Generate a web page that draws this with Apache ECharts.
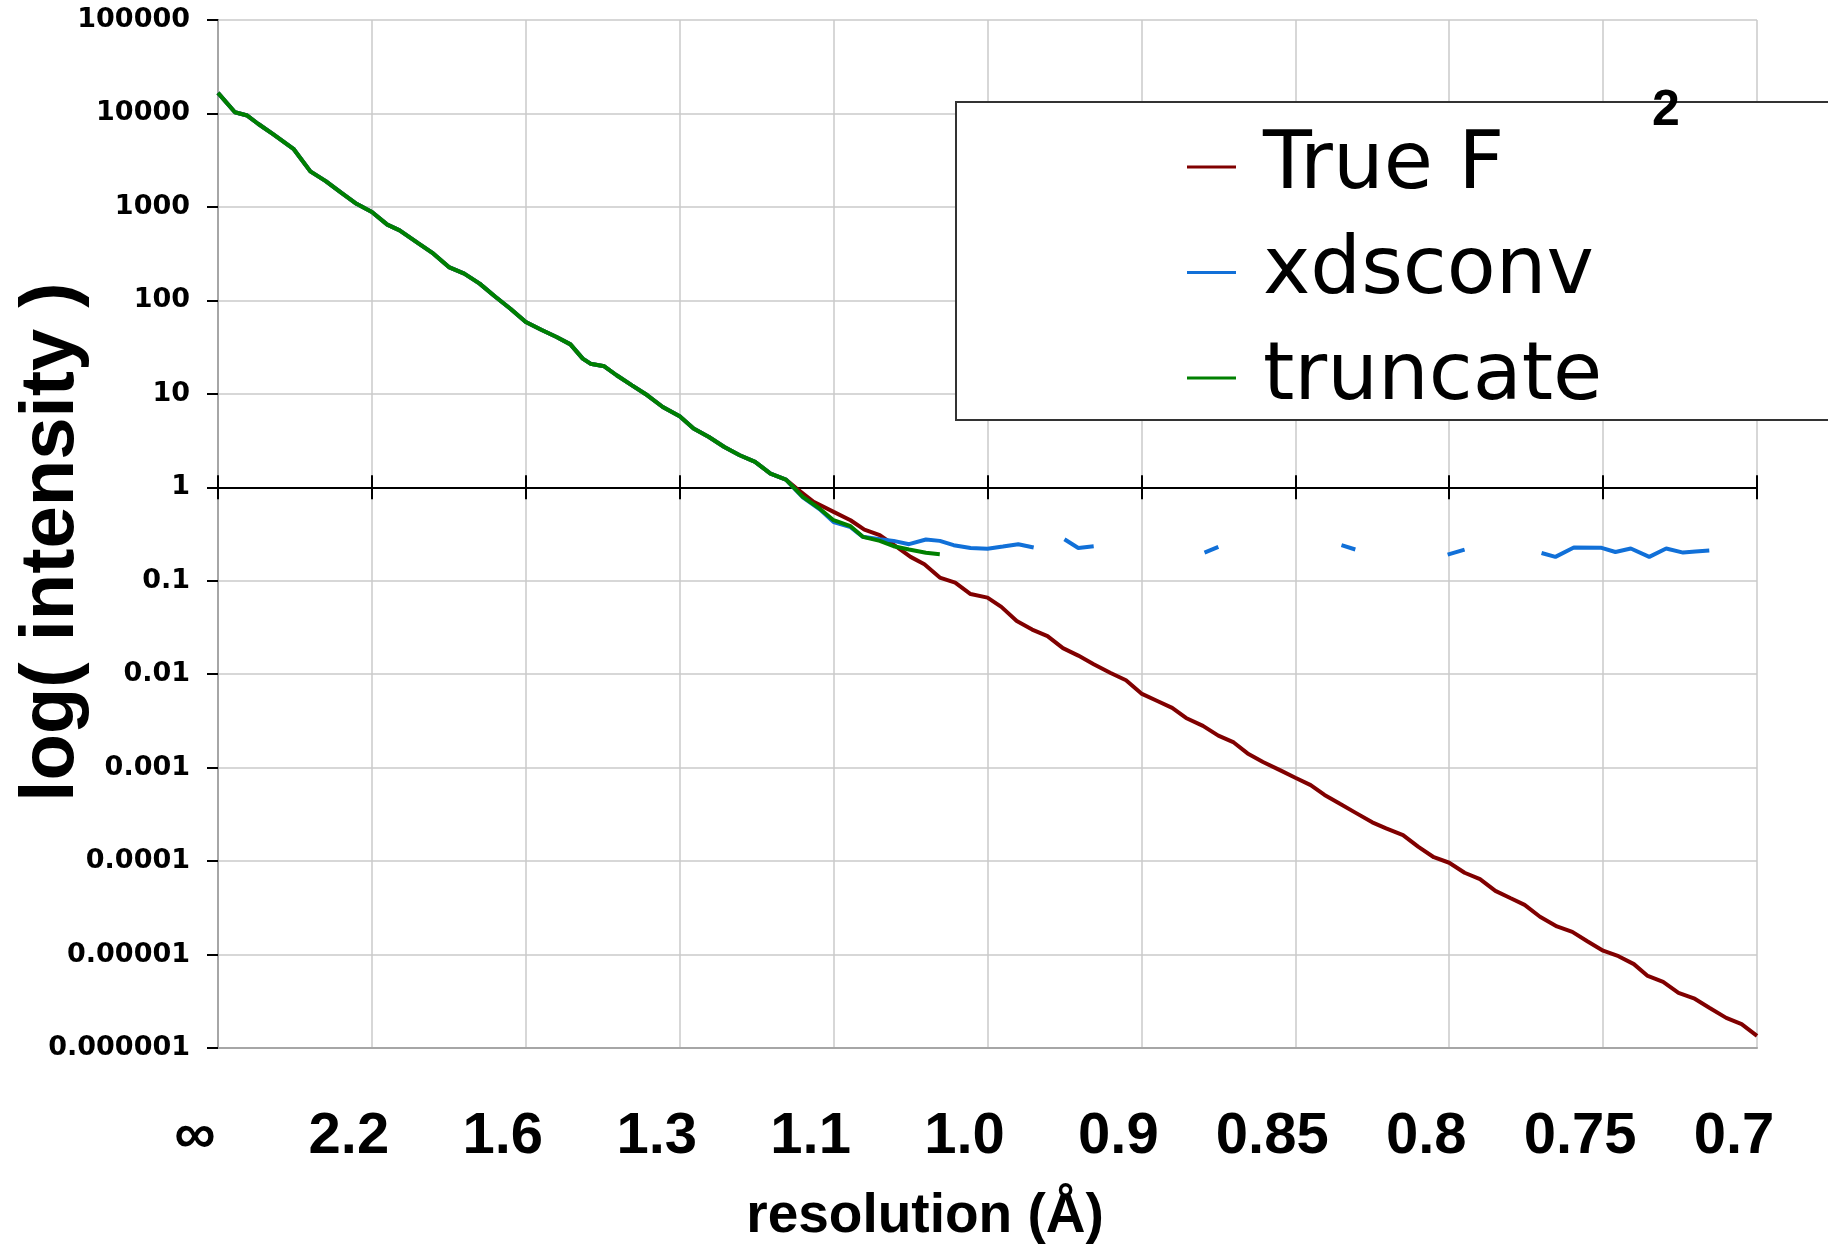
<!DOCTYPE html>
<html>
<head>
<meta charset="utf-8">
<script src="https://cdn.jsdelivr.net/npm/echarts@6/dist/echarts.min.js"></script>
<style>
  html, body { margin: 0; padding: 0; background: #fff; }
  #chart { width: 1828px; height: 1246px; }
</style>
</head>
<body>
<div id="chart"></div>
<script>
// x is in equal steps of 1/d^2 (tick index 0..10), y is intensity
const xTickLabels = ['\u221E', '2.2', '1.6', '1.3', '1.1', '1.0', '0.9', '0.85', '0.8', '0.75', '0.7'];
const yTickLabels = ['0.000001', '0.00001', '0.0001', '0.001', '0.01', '0.1', '1', '10', '100', '1000', '10000', '100000'];
const seriesNames = ['True F', 'xdsconv', 'truncate'];

// low resolution part, identical for all three curves
const commonHead = [
  [0.00, 16600], [0.11, 10300], [0.19, 9500], [0.26, 7760], [0.36, 5960], [0.49, 4190],
  [0.60, 2400], [0.70, 1890], [0.80, 1420], [0.90, 1080], [1.00, 883], [1.10, 646],
  [1.18, 561], [1.30, 410], [1.40, 316], [1.50, 227], [1.60, 193], [1.70, 151],
  [1.80, 110], [1.90, 81.3], [2.00, 58.6], [2.10, 48.5], [2.20, 40.5], [2.29, 33.8],
  [2.37, 23.8], [2.42, 21.0], [2.51, 19.7], [2.59, 15.8], [2.69, 12.3], [2.79, 9.64],
  [2.89, 7.23], [3.00, 5.74], [3.09, 4.25], [3.19, 3.45], [3.29, 2.70], [3.39, 2.20],
  [3.49, 1.87], [3.59, 1.40], [3.69, 1.21]
];

const trueFTail = [
  [3.76, 0.97], [3.87, 0.70], [4.00, 0.545], [4.11, 0.444], [4.20, 0.352], [4.30, 0.307],
  [4.41, 0.230], [4.50, 0.180], [4.59, 0.150], [4.69, 0.108], [4.79, 0.0955], [4.89, 0.072],
  [5.00, 0.066], [5.09, 0.0525], [5.19, 0.037], [5.29, 0.030], [5.39, 0.0255], [5.49, 0.019],
  [5.59, 0.0158], [5.69, 0.0128], [5.80, 0.0103], [5.90, 0.0086], [6.00, 0.0062], [6.10, 0.0052],
  [6.20, 0.00436], [6.29, 0.0034], [6.40, 0.0028], [6.50, 0.0022], [6.60, 0.00186], [6.69, 0.00142],
  [6.79, 0.00115], [6.90, 0.00094], [7.00, 0.00078], [7.10, 0.00065], [7.19, 0.00051], [7.29, 0.00041],
  [7.39, 0.00033], [7.50, 0.00026], [7.59, 0.000224], [7.70, 0.00019], [7.80, 0.000142], [7.90, 0.00011],
  [8.00, 0.000096], [8.10, 0.000075], [8.20, 0.000064], [8.30, 0.000048], [8.40, 0.00004], [8.49, 0.000034],
  [8.59, 0.0000254], [8.70, 0.00002], [8.80, 0.0000175], [8.90, 0.0000138], [9.00, 0.000011], [9.10, 0.0000096],
  [9.20, 0.0000079], [9.29, 0.0000059], [9.39, 0.0000051], [9.49, 0.0000039], [9.59, 0.0000034], [9.69, 0.0000027],
  [9.80, 0.0000021], [9.90, 0.0000018], [10.00, 0.00000135]
];

// '-' = missing value, breaks the line
const xdsconvTail = [
  [3.80, 0.78], [3.91, 0.58], [4.00, 0.425], [4.11, 0.375], [4.19, 0.295], [4.30, 0.278],
  [4.39, 0.267], [4.49, 0.246], [4.60, 0.276], [4.69, 0.267], [4.78, 0.240], [4.89, 0.224],
  [5.00, 0.220], [5.10, 0.232], [5.20, 0.246], [5.30, 0.227], [5.40, '-'],
  [5.50, 0.278], [5.59, 0.224], [5.69, 0.234], [6.00, '-'],
  [6.41, 0.200], [6.50, 0.230], [7.00, '-'],
  [7.30, 0.240], [7.39, 0.216], [7.70, '-'],
  [7.99, 0.190], [8.10, 0.215], [8.40, '-'],
  [8.60, 0.198], [8.69, 0.180], [8.81, 0.227], [8.99, 0.225], [9.08, 0.203], [9.18, 0.221],
  [9.30, 0.180], [9.41, 0.221], [9.52, 0.200], [9.60, 0.205], [9.69, 0.210]
];

const truncateTail = [
  [3.80, 0.79], [3.91, 0.59], [4.00, 0.444], [4.11, 0.383], [4.19, 0.295], [4.30, 0.267],
  [4.39, 0.234], [4.49, 0.216], [4.60, 0.199], [4.69, 0.192]
];

const chartDiv = document.getElementById('chart');
const myChart = echarts.init(chartDiv, null, { width: 1828, height: 1246 });

const gridTop = 20;
const gridBottom = 198;
const gridHeight = 1246 - gridTop - gridBottom;
// the black line sits at intensity 1, i.e. 6 of 11 decades above the bottom
const oneLineOffset = -gridHeight * 6 / 11;

const boldSans = '"Liberation Sans", Arial, sans-serif';

function xLabel(v) {
  return xTickLabels[Math.round(v)];
}
function yLabel(v) {
  return yTickLabels[Math.round(Math.log10(v)) + 6];
}

const option = {
  animation: false,
  backgroundColor: '#fff',
  grid: {
    left: 218,
    right: 71,
    top: gridTop,
    bottom: gridBottom,
    outerBoundsMode: 'none',
    containLabel: false
  },
  legend: {
    data: seriesNames,
    orient: 'vertical',
    left: 956,
    top: 102,
    padding: [25, 700, 2, 231],
    itemGap: 25.5,
    itemWidth: 49,
    itemHeight: 3,
    icon: 'rect',
    backgroundColor: '#fff',
    borderColor: '#333',
    borderWidth: 2,
    borderRadius: 0,
    textStyle: {
      fontFamily: '"DejaVu Sans", sans-serif',
      fontSize: 80,
      lineHeight: 80,
      color: '#000',
      padding: [0, 0, 0, 22]
    }
  },
  graphic: [
    {
      type: 'text',
      left: 1652,
      top: 86,
      z: 100,
      style: {
        text: '2',
        fill: '#000',
        font: 'bold 50px ' + boldSans
      }
    }
  ],
  xAxis: [
    {
      type: 'value',
      position: 'bottom',
      min: 0,
      max: 10,
      interval: 1,
      axisLine: { show: true, lineStyle: { color: '#a6a6a6', width: 2 } },
      axisTick: { show: false },
      splitLine: { show: true, lineStyle: { color: '#cacaca', width: 1.5 } },
      axisLabel: {
        formatter: xLabel,
        showMinLabel: true,
        showMaxLabel: true,
        hideOverlap: false,
        margin: 60,
        color: '#000',
        fontFamily: boldSans,
        fontWeight: 'bold',
        fontSize: 58,
        lineHeight: 58,
        padding: [0, 46, 0, 0]
      },
      name: 'resolution (\u00C5)',
      nameLocation: 'middle',
      nameGap: 140,
      nameMoveOverlap: false,
      nameTextStyle: {
        color: '#000',
        fontFamily: boldSans,
        fontWeight: 'bold',
        fontSize: 55,
        lineHeight: 58,
        padding: [0, 125, 0, 0]
      }
    },
    {
      type: 'value',
      position: 'bottom',
      offset: oneLineOffset,
      min: 0,
      max: 10,
      interval: 1,
      axisLine: { show: true, lineStyle: { color: '#000', width: 2 } },
      axisTick: { show: true, inside: true, length: 12, lineStyle: { color: '#000', width: 2 } },
      axisLabel: { show: false },
      splitLine: { show: false }
    },
    {
      type: 'value',
      position: 'bottom',
      offset: oneLineOffset,
      min: 0,
      max: 10,
      interval: 1,
      axisLine: { show: false },
      axisTick: { show: true, inside: false, length: 12, lineStyle: { color: '#000', width: 2 } },
      axisLabel: { show: false },
      splitLine: { show: false }
    }
  ],
  yAxis: [
    {
      type: 'log',
      logBase: 10,
      position: 'left',
      min: 0.000001,
      max: 100000,
      interval: 1,
      axisLine: { show: true, lineStyle: { color: '#000', width: 2 } },
      axisTick: { show: true, inside: false, length: 11, lineStyle: { color: '#000', width: 2 } },
      splitLine: { show: true, lineStyle: { color: '#cacaca', width: 1.5 } },
      axisLabel: {
        formatter: yLabel,
        showMinLabel: true,
        showMaxLabel: true,
        hideOverlap: false,
        margin: 28,
        color: '#000',
        fontFamily: '"DejaVu Sans", sans-serif',
        fontWeight: 'bold',
        fontSize: 27
      },
      name: 'log( intensity )',
      nameLocation: 'middle',
      nameGap: 128,
      nameMoveOverlap: false,
      nameTextStyle: {
        color: '#000',
        fontFamily: boldSans,
        fontWeight: 'bold',
        fontSize: 76,
        lineHeight: 76,
        padding: [0, 16, 0, 0]
      }
    },
    {
      type: 'log',
      logBase: 10,
      position: 'right',
      min: 0.000001,
      max: 100000,
      interval: 1,
      axisLine: { show: true, lineStyle: { color: '#a6a6a6', width: 2 } },
      axisTick: { show: false },
      axisLabel: { show: false },
      splitLine: { show: false }
    }
  ],
  series: [
    {
      name: 'True F',
      type: 'line',
      xAxisIndex: 0,
      yAxisIndex: 0,
      symbol: 'none',
      showSymbol: false,
      color: '#800000',
      lineStyle: { color: '#800000', width: 4 },
      data: commonHead.concat(trueFTail)
    },
    {
      name: 'xdsconv',
      type: 'line',
      xAxisIndex: 0,
      yAxisIndex: 0,
      symbol: 'none',
      showSymbol: false,
      connectNulls: false,
      color: '#1170d8',
      lineStyle: { color: '#1170d8', width: 4 },
      data: commonHead.concat(xdsconvTail)
    },
    {
      name: 'truncate',
      type: 'line',
      xAxisIndex: 0,
      yAxisIndex: 0,
      symbol: 'none',
      showSymbol: false,
      color: '#008000',
      lineStyle: { color: '#008000', width: 4 },
      data: commonHead.concat(truncateTail)
    }
  ]
};

myChart.setOption(option);
</script>
</body>
</html>
